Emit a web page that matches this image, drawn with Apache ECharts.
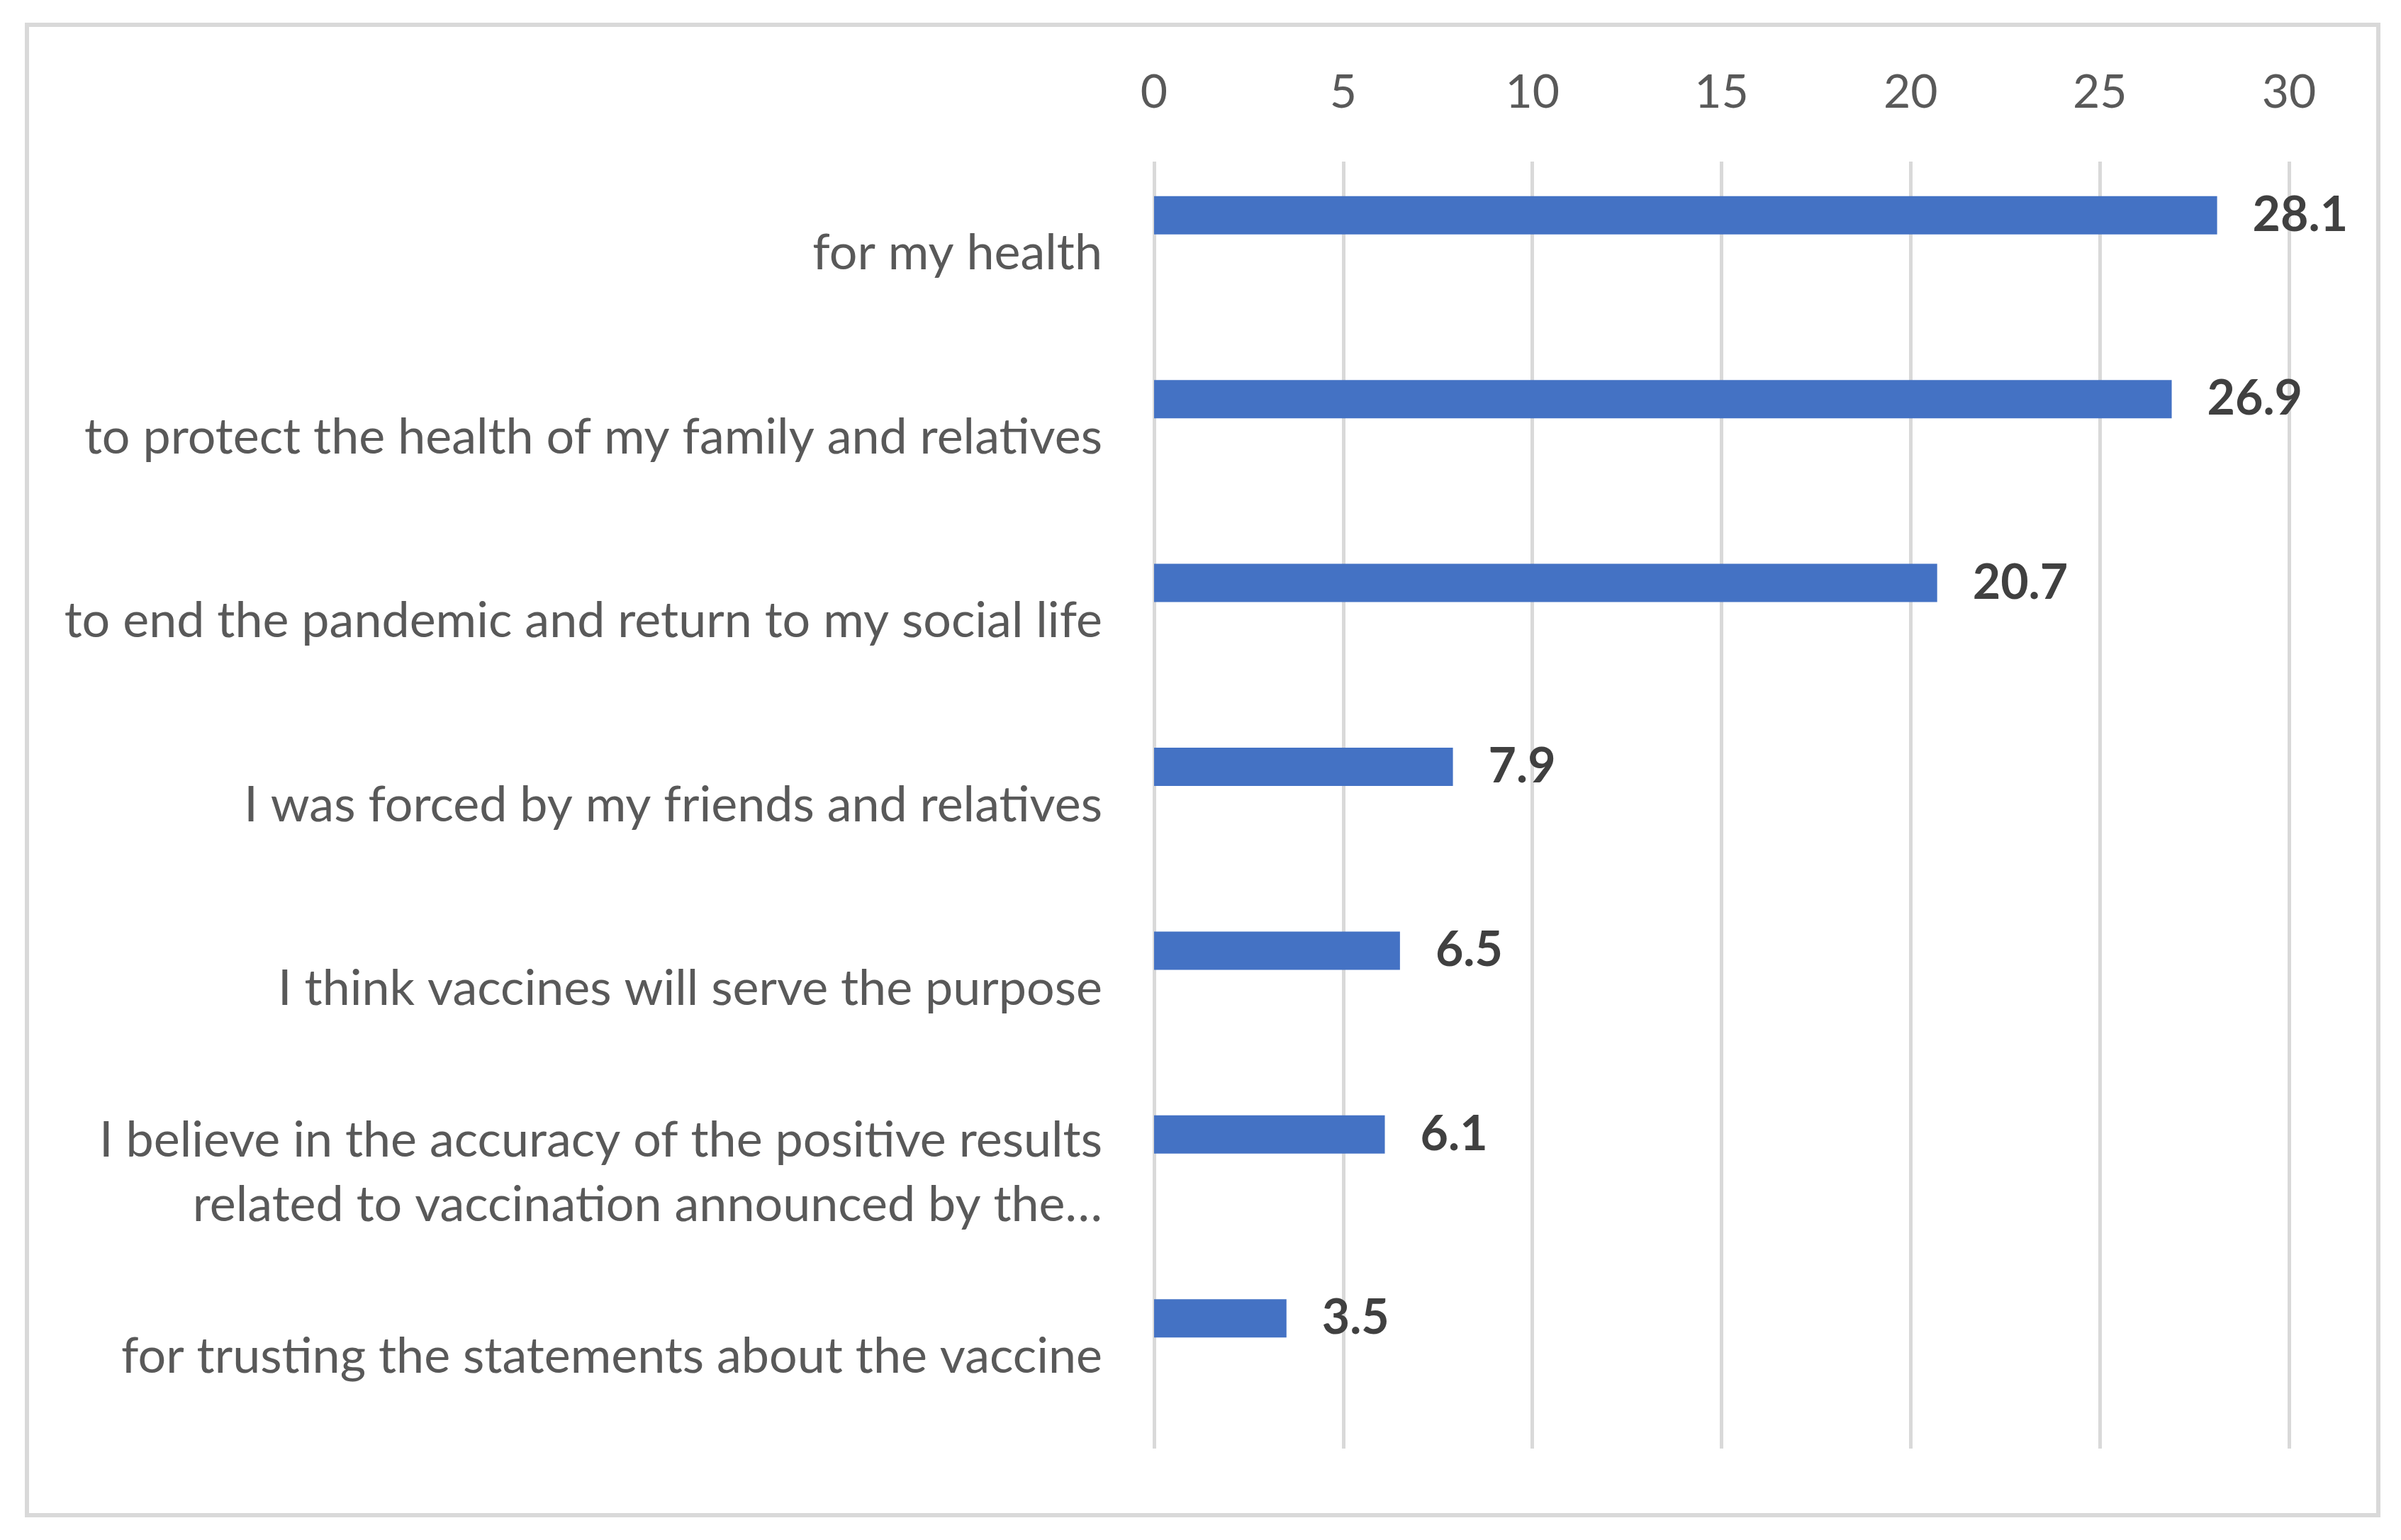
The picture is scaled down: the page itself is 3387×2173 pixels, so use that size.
<!DOCTYPE html>
<html>
<head>
<meta charset="utf-8">
<script src="https://cdn.jsdelivr.net/npm/echarts@6/dist/echarts.min.js"></script>
<style>html,body{margin:0;padding:0;background:#fff;}#chart{width:3387px;height:2173px;}</style>
</head>
<body>
<div id="chart"></div>
<script>
const categories = [
  "for my health",
  "to protect the health of my family and relatives",
  "to end the pandemic and return to my social life",
  "I was forced by my friends and relatives",
  "I think vaccines will serve the purpose",
  "I believe in the accuracy of the positive results\nrelated to vaccination announced by the…",
  "for trusting the statements about the vaccine"
];
const values = [28.1, 26.9, 20.7, 7.9, 6.5, 6.1, 3.5];
const emptySeries = [null, null, null, null, null, null, null];
const xTicks = { min: 0, max: 30, interval: 5 };

const chart = echarts.init(document.getElementById('chart'), null, { renderer: 'canvas' });
const FONT = 'Lato';
chart.setOption({
  animation: false,
  backgroundColor: '#ffffff',
  graphic: [{
    type: 'rect',
    shape: { x: 38, y: 35, width: 3317, height: 2103 },
    style: { fill: 'none', stroke: '#d9d9d9', lineWidth: 6 },
    silent: true
  }],
  grid: { left: 1628, right: 158, top: 228, bottom: 129, containLabel: false },
  xAxis: {
    type: 'value',
    position: 'top',
    min: xTicks.min, max: xTicks.max, interval: xTicks.interval,
    axisLine: { show: false },
    axisTick: { show: false },
    axisLabel: { color: '#595959', fontSize: 66, fontFamily: FONT, margin: 64 },
    splitLine: { show: true, lineStyle: { color: '#d9d9d9', width: 5 } }
  },
  yAxis: {
    type: 'category',
    inverse: true,
    data: categories,
    axisLine: { show: false },
    axisTick: { show: false },
    axisLabel: { color: '#595959', fontSize: 70, fontFamily: FONT, margin: 73, lineHeight: 91, align: 'right' }
  },
  series: [
    {
      type: 'bar',
      data: values,
      barWidth: 54,
      barGap: '100%',
      itemStyle: { color: '#4472C4' },
      label: { show: true, position: 'right', distance: 50, color: '#404040', fontSize: 68, fontWeight: 'bold', fontFamily: FONT }
    },
    {
      type: 'bar',
      data: emptySeries,
      barWidth: 54,
      itemStyle: { color: '#ED7D31' }
    }
  ]
});
</script>
</body>
</html>
